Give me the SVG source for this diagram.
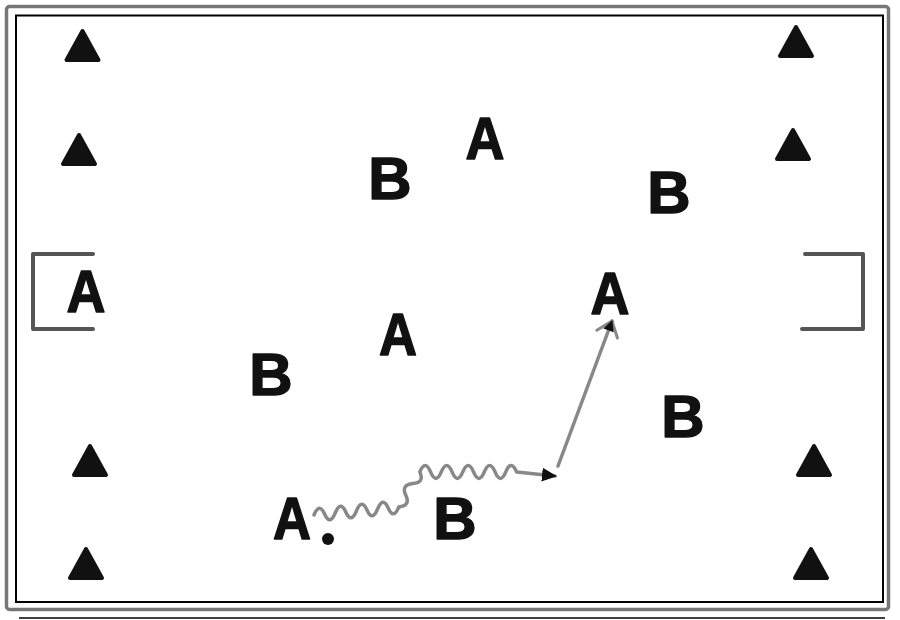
<svg xmlns="http://www.w3.org/2000/svg" xmlns:xlink="http://www.w3.org/1999/xlink" width="900" height="620" viewBox="0 0 900 620">
<style>
  .lbl { font-family: "Liberation Sans", Arial, sans-serif; font-weight: bold; font-size: 60px; fill: #111; stroke: #111; stroke-width: 1.5; stroke-linejoin: round; text-anchor: middle; }
  .cone { fill: #111; stroke: #111; stroke-width: 4; stroke-linejoin: round; }
  .goal { fill: none; stroke: #555; stroke-width: 4; stroke-linecap: round; stroke-linejoin: round; }
  .wave { fill: none; stroke: #888; stroke-width: 3.5; stroke-linecap: round; stroke-linejoin: round; }
  .run { fill: none; stroke: #888; stroke-width: 3.5; stroke-linecap: round; }
</style>
<defs>
  <path id="cone" d="M0,3 L16,32 L-16,32 Z"/>
  <marker id="headSolid" viewBox="0 0 16 16" refX="13" refY="8" markerWidth="16" markerHeight="16" markerUnits="userSpaceOnUse" orient="auto">
    <path d="M0,1 L15,8 L0,15 Z" fill="#111"/>
  </marker>
  <marker id="headOpen" viewBox="0 0 20 26" refX="17" refY="13" markerWidth="20" markerHeight="26" markerUnits="userSpaceOnUse" orient="auto">
    <path d="M3,2 L17,13 L3,24" fill="none" stroke="#888" stroke-width="3" stroke-linecap="round" stroke-linejoin="round"/>
    <path d="M7,7.5 L18,13 L7,18.5 Z" fill="#111"/>
  </marker>
</defs>
<rect width="900" height="620" fill="#fff"/>
<g id="field">
  <rect x="6.5" y="6.5" width="882" height="603" rx="3" fill="none" stroke="#777" stroke-width="3.5"/>
  <rect x="16" y="15.5" width="867" height="586.5" fill="none" stroke="#000" stroke-width="2"/>
  <line x1="19" y1="618" x2="885" y2="618" stroke="#000" stroke-width="1.5"/>
</g>
<g id="goal-left"><path class="goal" d="M93,254 L33,254 L33,329 L93,329"/></g>
<g id="goal-right"><path class="goal" d="M805,254 L863,254 L863,329 L802,329"/></g>
<g id="cones">
  <g id="cone-1"><use xlink:href="#cone" href="#cone" class="cone" x="82.5" y="28"/></g>
  <g id="cone-2"><use xlink:href="#cone" href="#cone" class="cone" x="79" y="132"/></g>
  <g id="cone-3"><use xlink:href="#cone" href="#cone" class="cone" x="90" y="443"/></g>
  <g id="cone-4"><use xlink:href="#cone" href="#cone" class="cone" x="86" y="546"/></g>
  <g id="cone-5"><use xlink:href="#cone" href="#cone" class="cone" x="796" y="24"/></g>
  <g id="cone-6"><use xlink:href="#cone" href="#cone" class="cone" x="793" y="127"/></g>
  <g id="cone-7"><use xlink:href="#cone" href="#cone" class="cone" x="814" y="443"/></g>
  <g id="cone-8"><use xlink:href="#cone" href="#cone" class="cone" x="811" y="546"/></g>
</g>
<g id="player-a1"><text class="lbl" x="485" y="159" textLength="39" lengthAdjust="spacingAndGlyphs">A</text></g>
<g id="player-b1"><text class="lbl" x="390" y="199">B</text></g>
<g id="player-b2"><text class="lbl" x="669" y="213">B</text></g>
<g id="player-a2"><text class="lbl" x="86" y="312" textLength="39" lengthAdjust="spacingAndGlyphs">A</text></g>
<g id="player-a3"><text class="lbl" x="610" y="314" textLength="39" lengthAdjust="spacingAndGlyphs">A</text></g>
<g id="player-a4"><text class="lbl" x="398" y="355" textLength="38" lengthAdjust="spacingAndGlyphs">A</text></g>
<g id="player-b3"><text class="lbl" x="271" y="395">B</text></g>
<g id="player-b4"><text class="lbl" x="683" y="437">B</text></g>
<g id="player-b5"><text class="lbl" x="455" y="539">B</text></g>
<g id="player-a5"><text class="lbl" x="292" y="539" textLength="38" lengthAdjust="spacingAndGlyphs">A</text></g>
<g id="ball"><circle cx="328" cy="539" r="6" fill="#111"/></g>
<g id="connectors">
  <path class="wave" d="M314,515 q5.3,-13 10.6,-1 t10.6,-1 t10.6,-1 t10.6,-1 t10.6,-1 t10.6,-1 t10.6,-1 t10.6,-1 q12,-1.3 7,-11.7 t7,-11.7 t7,-11.7 q5.4,-13 10.75,0 t10.75,0 t10.75,0 t10.75,0 t10.75,0 t10.75,0 t10.75,0 t10.75,0 t10.75,0 L555,476" marker-end="url(#headSolid)"/>
  <path class="run" d="M558,466 L612,321" marker-end="url(#headOpen)"/>
</g>
</svg>
